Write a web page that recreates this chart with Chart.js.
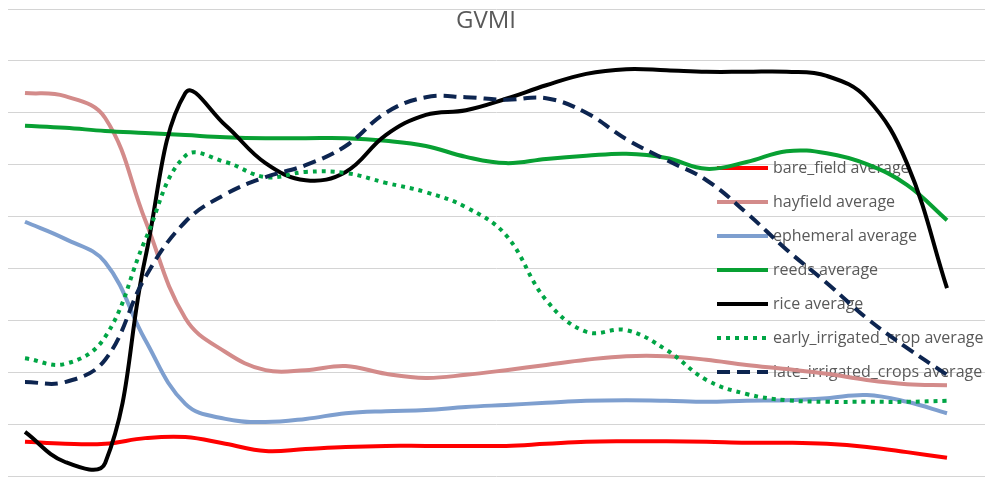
<!DOCTYPE html>
<html>
<head>
<meta charset="utf-8">
<script src="https://cdn.jsdelivr.net/npm/chart.js@4.4.0/dist/chart.umd.min.js"></script>
<style>
  html, body { margin: 0; padding: 0; background: #fff; }
  .wrap { width: 987px; height: 477px; position: relative; }
</style>
</head>
<body>
<div class="wrap"><canvas id="gvmi"></canvas></div>
<script>
// composite periods along the season (no tick labels shown on the chart)
const periods = [1, 2, 3, 4, 5, 6, 7, 8, 9, 10, 11, 12, 13, 14, 15, 16, 17, 18, 19, 20, 21, 22, 23, 24];

const bareField = [-0.434, -0.438, -0.438, -0.427, -0.425, -0.438, -0.452, -0.448, -0.444, -0.442, -0.442, -0.442, -0.442, -0.438, -0.434, -0.433, -0.433, -0.434, -0.436, -0.436, -0.438, -0.444, -0.454, -0.465];
const hayfield = [0.238, 0.232, 0.190, -0.007, -0.196, -0.261, -0.296, -0.296, -0.288, -0.303, -0.311, -0.305, -0.296, -0.286, -0.276, -0.269, -0.269, -0.276, -0.286, -0.294, -0.303, -0.315, -0.323, -0.325];
const ephemeral = [-0.010, -0.043, -0.088, -0.238, -0.361, -0.390, -0.396, -0.390, -0.379, -0.375, -0.373, -0.367, -0.363, -0.359, -0.355, -0.354, -0.355, -0.357, -0.355, -0.354, -0.350, -0.344, -0.357, -0.379];
const reeds = [0.175, 0.171, 0.165, 0.161, 0.157, 0.153, 0.151, 0.151, 0.151, 0.146, 0.136, 0.115, 0.103, 0.111, 0.117, 0.121, 0.113, 0.092, 0.105, 0.126, 0.122, 0.101, 0.061, -0.007];
const rice = [-0.415, -0.473, -0.475, -0.080, 0.238, 0.176, 0.103, 0.070, 0.086, 0.157, 0.196, 0.205, 0.227, 0.253, 0.275, 0.284, 0.282, 0.279, 0.279, 0.279, 0.271, 0.228, 0.103, -0.138];
const earlyIrrigated = [-0.273, -0.284, -0.232, -0.045, 0.117, 0.105, 0.076, 0.086, 0.084, 0.065, 0.047, 0.018, -0.036, -0.161, -0.222, -0.219, -0.257, -0.315, -0.342, -0.354, -0.357, -0.357, -0.357, -0.355];
const lateIrrigated = [-0.319, -0.319, -0.276, -0.117, -0.010, 0.043, 0.076, 0.099, 0.136, 0.200, 0.230, 0.230, 0.225, 0.228, 0.200, 0.149, 0.109, 0.070, 0.007, -0.064, -0.128, -0.196, -0.253, -0.305];

const seriesNames = ["bare_field average", "hayfield average", "ephemeral average", "reeds average", "rice average", "early_irrigated_crop average", "late_irrigated_crops average"];
const seriesValues = [bareField, hayfield, ephemeral, reeds, rice, earlyIrrigated, lateIrrigated];
const seriesColors = ["#ff0000", "#d38b8a", "#7e9fcf", "#08a033", "#000000", "#00a545", "#0d2550"];
const seriesDash = [[], [], [], [], [], [4, 5], [13, 7]];

const titleText = "GVMI";
const yMin = -0.5, yMax = 0.4, yStep = 0.1;

// title + legend drawn inside the plot area, under the lines (like the original)
const insideLegend = {
  id: "insideLegend",
  beforeDatasetsDraw(chart) {
    const ctx = chart.ctx;
    ctx.save();
    ctx.fillStyle = "#595959";
    ctx.font = "24px 'Open Sans'";
    ctx.textAlign = "center";
    ctx.textBaseline = "middle";
    ctx.fillText(titleText, 486, 21);

    ctx.font = "16px 'Open Sans'";
    ctx.textAlign = "left";
    chart.data.datasets.forEach((ds, i) => {
      const y = 168 + i * 34;
      ctx.strokeStyle = ds.borderColor;
      ctx.lineWidth = 4;
      ctx.setLineDash(ds.borderDash);
      ctx.beginPath();
      ctx.moveTo(717, y);
      ctx.lineTo(768, y);
      ctx.stroke();
      ctx.setLineDash([]);
      ctx.fillStyle = "#595959";
      ctx.fillText(ds.label, 773, y);
    });
    ctx.restore();
  }
};

const n = periods.length;
const datasets = seriesNames.map((name, i) => ({
  label: name,
  data: periods.map((p, k) => ({ x: p, y: seriesValues[i][k] })),
  borderColor: seriesColors[i],
  borderWidth: 4,
  borderDash: seriesDash[i],
  borderCapStyle: "butt",
  pointRadius: 0,
  tension: 0.4,
  fill: false,
  clip: false,
  order: seriesNames.length - i
}));

new Chart(document.getElementById("gvmi"), {
  type: "line",
  data: { datasets: datasets },
  options: {
    responsive: true,
    maintainAspectRatio: false,
    animation: false,
    layout: { padding: { left: 8, right: 2, top: 9, bottom: 1 } },
    scales: {
      x: {
        type: "linear",
        display: false,
        min: periods[0] - 0.424,
        max: periods[n - 1] + 0.948
      },
      y: {
        min: yMin,
        max: yMax,
        ticks: { display: false, stepSize: yStep },
        border: { display: false },
        grid: { color: "#d4d4d4", lineWidth: 1, drawTicks: false },
        afterFit(scale) { scale.width = 0; }
      }
    },
    plugins: {
      legend: { display: false },
      title: { display: false },
      tooltip: { enabled: false }
    }
  },
  plugins: [insideLegend]
});
</script>
</body>
</html>
